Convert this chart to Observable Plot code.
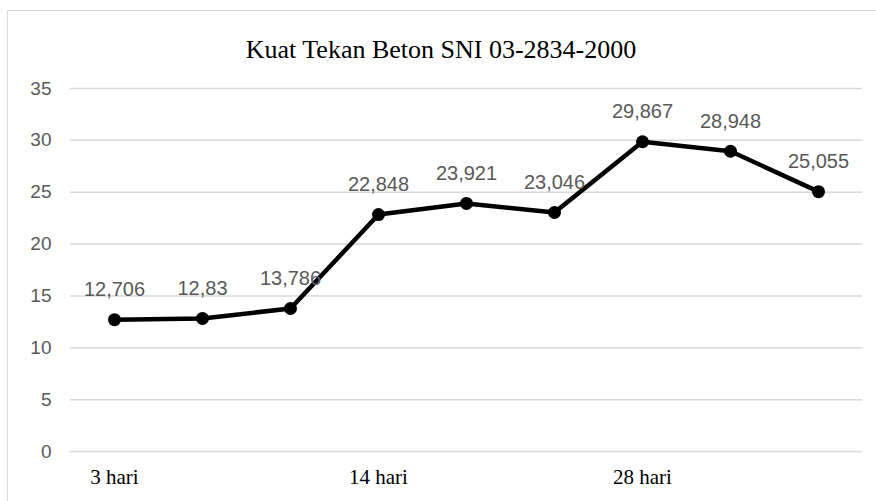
<!DOCTYPE html>
<html>
<head>
<meta charset="utf-8">
<script src="https://cdn.jsdelivr.net/npm/d3@7"></script>
<script src="https://cdn.jsdelivr.net/npm/@observablehq/plot@0.6"></script>
<style>
  html, body { margin: 0; padding: 0; background: #fff; }
  #wrap { position: relative; width: 876px; height: 501px; overflow: hidden; }
  #frame { position: absolute; left: 7px; top: 10px; width: 900px; height: 520px; border: 1px solid #d9d9d9; box-sizing: border-box; }
  #title { position: absolute; left: 0; width: 882px; top: 37px; line-height: 1; text-align: center; font-family: "Liberation Serif", serif; font-size: 26px; color: #000; }
  #chart { position: absolute; left: 0; top: 0; }
</style>
</head>
<body>
<div id="wrap">
  <div id="frame"></div>
  <div id="title">Kuat Tekan Beton SNI 03-2834-2000</div>
  <div id="chart"></div>
</div>
<script>
const idx = [1, 2, 3, 4, 5, 6, 7, 8, 9];
const xLabels = ["3 hari", "", "", "14 hari", "", "", "28 hari", "", ""];
const values = [12.706, 12.83, 13.786, 22.848, 23.921, 23.046, 29.867, 28.948, 25.055];
const valueLabels = ["12,706", "12,83", "13,786", "22,848", "23,921", "23,046", "29,867", "28,948", "25,055"];
const yTicks = [0, 5, 10, 15, 20, 25, 30, 35];

const data = idx.map((i, k) => ({ i, v: values[k], lab: valueLabels[k] }));

const plot = Plot.plot({
  width: 876,
  height: 501,
  marginLeft: 70,
  marginRight: 14,
  marginTop: 88,
  marginBottom: 50,
  style: { background: "transparent", overflow: "visible" },
  x: { type: "band", domain: idx, padding: 0, round: false, label: null, tickSize: 0, tickPadding: 0, tickFormat: d => xLabels[d - 1] },
  y: { domain: [0, 35], label: null, ticks: yTicks, tickSize: 0, tickPadding: 18 },
  marks: [
    Plot.gridY(yTicks, { stroke: "#d9d9d9", strokeOpacity: 1, strokeWidth: 1.5 }),
    Plot.axisY({ ticks: yTicks, tickSize: 0, tickPadding: 19, label: null, fontSize: 19, fontFamily: "Liberation Sans, sans-serif", fill: "#595959" }),
    Plot.axisX({ tickSize: 0, tickPadding: 18, label: null, fontSize: 21, fontFamily: "Liberation Serif, serif", fill: "#000", tickFormat: d => xLabels[d - 1] }),
    Plot.line(data, { x: "i", y: "v", stroke: "#000", strokeWidth: 4.5 }),
    Plot.dot(data, { x: "i", y: "v", r: 6.5, fill: "#000", stroke: "none" }),
    Plot.text(data, { x: "i", y: "v", text: "lab", dy: -30, fontSize: 20, fontFamily: "Liberation Sans, sans-serif", fill: "#595959" })
  ]
});
document.getElementById("chart").appendChild(plot);
</script>
</body>
</html>
